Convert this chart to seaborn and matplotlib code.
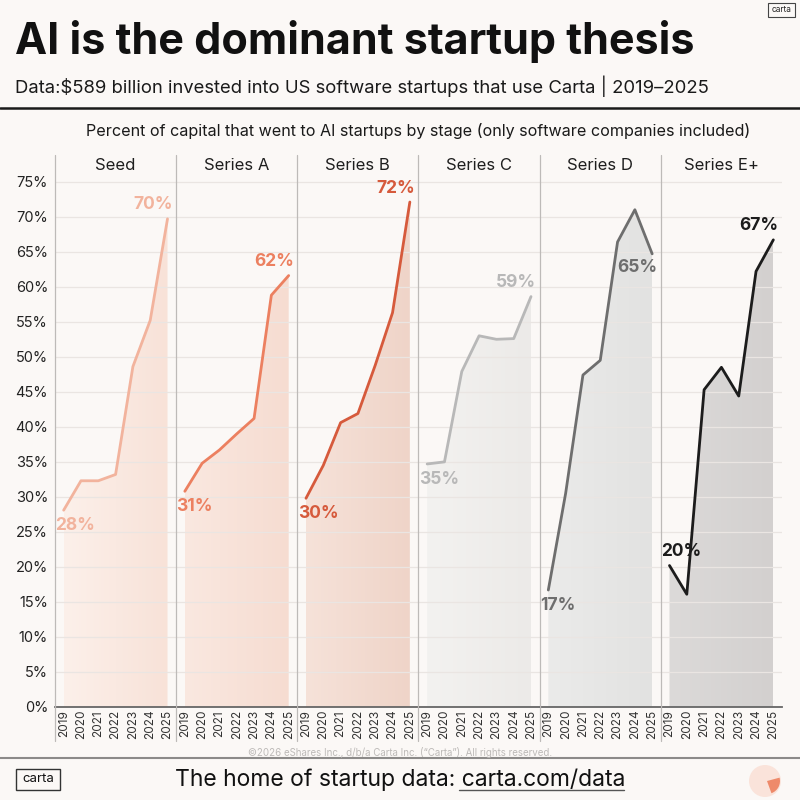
import numpy as np
import pandas as pd
import seaborn as sns
import matplotlib.pyplot as plt
from matplotlib.colors import LinearSegmentedColormap
from matplotlib.lines import Line2D
from matplotlib.patches import Rectangle, Circle, Wedge

# data (percent of capital to AI startups)
years = [2019, 2020, 2021, 2022, 2023, 2024, 2025]
stages = ["Seed", "Series A", "Series B", "Series C", "Series D", "Series E+"]
seed = [28.1, 32.3, 32.3, 33.2, 48.6, 55.2, 69.7]
series_a = [30.8, 34.8, 36.7, 39.0, 41.2, 58.8, 61.6]
series_b = [29.8, 34.5, 40.6, 41.9, 48.8, 56.3, 72.1]
series_c = [34.7, 35.0, 47.9, 53.0, 52.5, 52.6, 58.6]
series_d = [16.7, 30.5, 47.4, 49.5, 66.4, 71.0, 64.7]
series_e = [20.2, 16.1, 45.3, 48.5, 44.4, 62.2, 66.7]
y_ticks = list(range(0, 80, 5))

line_colors = ["#F2B39D", "#EC8060", "#D65A3C", "#B8B8B8", "#6E6E6E", "#1C1C1C"]
fill_left = ["#FCF0EA", "#FAE8E0", "#F6E2D9", "#F3F2F0", "#EBEBEA", "#DCDAD9"]
fill_right = ["#F8E2D8", "#F6DCD1", "#EFD4C8", "#ECEAE8", "#E2E2E1", "#D3D0CF"]
start_pos = ["below", "below", "below", "below", "below", "above"]
end_pos = ["above", "above", "above", "above", "below", "above"]

df = pd.DataFrame({
    "stage": np.repeat(stages, len(years)),
    "year": years * len(stages),
    "pct": seed + series_a + series_b + series_c + series_d + series_e,
})

BG = "#FBF8F6"
sns.set_style("white")
plt.rcParams["font.family"] = ["Inter", "DejaVu Sans"]

fig, axes = plt.subplots(1, 6, figsize=(8, 8), dpi=100, sharey=True,
                         gridspec_kw=dict(wspace=0))
fig.patch.set_facecolor(BG)
fig.subplots_adjust(left=55 / 800, right=782 / 800, bottom=93 / 800, top=645 / 800)

top_val = 75 + (181.7 - 155) / 7

for i, (ax, s) in enumerate(zip(axes, stages)):
    sub = df[df.stage == s]
    c = line_colors[i]
    ax.set_facecolor("none")
    sns.lineplot(data=sub, x="year", y="pct", ax=ax, color=c, linewidth=2,
                 legend=False, zorder=3)

    # gradient fill under the line
    poly = ax.fill_between(sub.year, sub.pct, 0, color="none", lw=0)
    cmap = LinearSegmentedColormap.from_list("g" + str(i), [fill_left[i], fill_right[i]])
    grad = np.linspace(0, 1, 256).reshape(1, -1)
    im = ax.imshow(grad, cmap=cmap, extent=[years[0], years[-1], 0, top_val],
                   aspect="auto", origin="lower", zorder=1)
    im.set_clip_path(poly.get_paths()[0], transform=ax.transData)

    ax.set_xlim(years[0] - 0.5, years[-1] + 0.5)
    ax.set_ylim(0, top_val)
    ax.set_xticks(years)
    ax.set_xticklabels([str(y) for y in years], rotation=90, fontsize=8.5, color="#333333")
    ax.set_yticks(y_ticks)
    ax.set_yticklabels([f"{t}%" for t in y_ticks], fontsize=10.5, color="#222222")
    ax.tick_params(length=0, pad=2, axis="x")
    ax.tick_params(length=0, pad=5, axis="y")
    ax.set_xlabel("")
    ax.set_ylabel("")
    ax.grid(axis="y", color="#EAE5E2", lw=0.9)
    ax.set_axisbelow("line")
    for side in ["top", "right", "left"]:
        ax.spines[side].set_visible(False)
    ax.spines["bottom"].set_color("#666666")
    ax.spines["bottom"].set_linewidth(1.3)

    ax.text(0.5, (707 - 166) / 552, s, transform=ax.transAxes, ha="center",
            va="center", fontsize=12, color="#1E1E1E")

    v0, v1 = sub.pct.iloc[0], sub.pct.iloc[-1]
    dy0 = -11 if start_pos[i] == "below" else 10
    dy1 = -10 if end_pos[i] == "below" else 10
    ax.annotate(f"{v0:.0f}%", xy=(years[0], v0), xytext=(-6, dy0),
                textcoords="offset points", ha="left", va="center",
                fontsize=12.5, fontweight="bold", color=c, zorder=4)
    ax.annotate(f"{v1:.0f}%", xy=(years[-1], v1), xytext=(3.6, dy1),
                textcoords="offset points", ha="right", va="center",
                fontsize=12.5, fontweight="bold", color=c, zorder=4)

# separators between panels and y axis line
for ax in axes:
    x0 = ax.get_position().x0
    fig.add_artist(Line2D([x0, x0], [1 - 741 / 800, 1 - 155 / 800],
                          transform=fig.transFigure, color="#BDBAB8", lw=0.9))

# header
fig.text(15 / 800, 1 - 54.3 / 800, "AI is the dominant startup thesis",
         fontsize=31, fontweight="bold", color="#111111", va="baseline")
fig.text(15 / 800, 1 - 93.3 / 800,
         "Data:$589 billion invested into US software startups that use Carta | 2019\u20132025",
         fontsize=13.3, color="#1A1A1A", va="baseline")
fig.add_artist(Line2D([0, 1], [1 - 107.7 / 800] * 2, transform=fig.transFigure,
                      color="#1A1A1A", lw=1.8))
fig.text(0.5225, 1 - 135.7 / 800,
         "Percent of capital that went to AI startups by stage (only software companies included)",
         fontsize=11.6, color="#1A1A1A", va="baseline", ha="center")
fig.add_artist(Rectangle((768 / 800, 1 - 17 / 800), 27 / 800, 14 / 800,
                         transform=fig.transFigure, fill=False, ec="#444444", lw=0.8))
fig.text(781.5 / 800, 1 - 10 / 800, "carta", fontsize=6, ha="center", va="center",
         color="#222222")

# footer
fig.text(0.5, 1 - 752 / 800,
         "\u00a92026 eShares Inc., d/b/a Carta Inc. (\u201cCarta\u201d). All rights reserved.",
         fontsize=7, color="#BDBAB8", ha="center", va="center")
fig.add_artist(Line2D([0, 1], [1 - 758 / 800] * 2, transform=fig.transFigure,
                      color="#8C8A89", lw=1.5))
fig.text(0.5, 1 - 786 / 800, "The home of startup data: carta.com/data",
         fontsize=16.5, color="#111111", ha="center", va="baseline")
fig.add_artist(Line2D([459 / 800, 624 / 800], [1 - 790 / 800] * 2,
                      transform=fig.transFigure, color="#555555", lw=1))
fig.add_artist(Rectangle((16 / 800, 1 - 790 / 800), 44 / 800, 21 / 800,
                         transform=fig.transFigure, fill=False, ec="#333333", lw=1))
fig.text(38 / 800, 1 - 779.5 / 800, "carta", fontsize=9.5, ha="center", va="center",
         color="#111111")
fig.add_artist(Circle((765 / 800, 1 - 781 / 800), 16 / 800, transform=fig.transFigure,
                      color="#FAE3DA", lw=0))
fig.add_artist(Wedge((767 / 800, 1 - 781 / 800), 13 / 800, 290, 15,
                     transform=fig.transFigure, color="#EE8A6A", lw=0))

fig.savefig("out.png", dpi=100, facecolor=BG)
